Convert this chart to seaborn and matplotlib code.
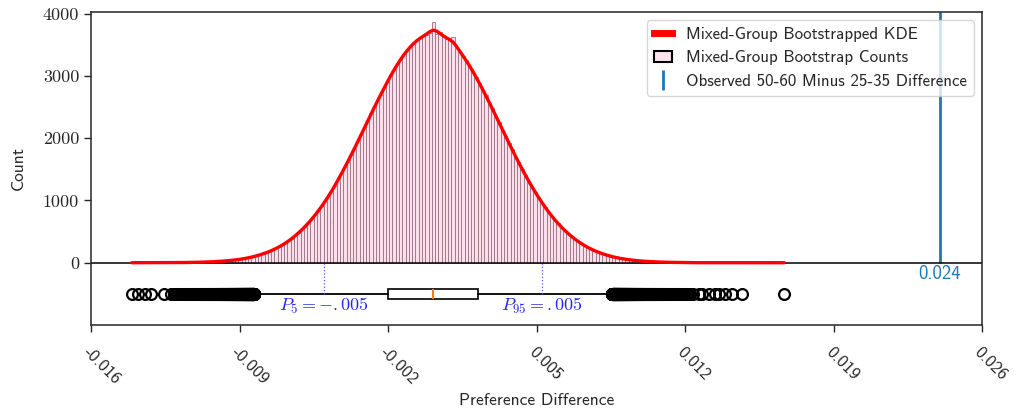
import numpy as np
import pandas as pd
import seaborn as sns
import matplotlib.pyplot as plt
from matplotlib.patches import Patch
from matplotlib.lines import Line2D

# ---- bootstrap counts (200 bins between min and max bootstrapped difference) ----
lo, hi = -0.01416, 0.01676
counts = [
    1, 0, 1, 0, 1, 0, 1, 0, 0, 0,
    1, 0, 1, 2, 2, 3, 3, 4, 5, 6,
    7, 8, 10, 12, 13, 16, 19, 22, 26, 31,
    34, 41, 46, 55, 61, 73, 81, 96, 106, 125,
    143, 155, 182, 199, 230, 251, 289, 312, 358, 389,
    441, 478, 539, 580, 646, 699, 772, 831, 915, 978,
    1072, 1148, 1236, 1342, 1427, 1538, 1624, 1745, 1833, 1958,
    2051, 2178, 2271, 2398, 2493, 2610, 2699, 2820, 2901, 3015,
    3092, 3197, 3259, 3351, 3405, 3482, 3519, 3583, 3606, 3650,
    3657, 3690, 3860, 3668, 3712, 3629, 3598, 3571, 3620, 3452,
    3402, 3318, 3255, 3160, 3084, 2977, 2893, 2779, 2690, 2569,
    2478, 2355, 2259, 2135, 2040, 1917, 1822, 1703, 1612, 1501,
    1415, 1306, 1228, 1129, 1056, 964, 901, 815, 757, 683,
    631, 567, 524, 466, 428, 380, 347, 306, 279, 244,
    222, 193, 175, 151, 137, 117, 105, 89, 80, 68,
    61, 51, 46, 38, 34, 28, 25, 20, 18, 15,
    13, 11, 9, 8, 6, 5, 5, 4, 3, 2,
    2, 1, 0, 1, 1, 0, 1, 0, 1, 1,
    0, 1, 0, 1, 0, 0, 1, 0, 0, 0,
    0, 0, 0, 0, 0, 0, 0, 0, 0, 1,
]
observed = 0.024
xticks = [-0.016, -0.009, -0.002, 0.005, 0.012, 0.019, 0.026]
yticks = [0, 1000, 2000, 3000, 4000]

edges = np.linspace(lo, hi, len(counts) + 1)
centers = (edges[:-1] + edges[1:]) / 2
binw = edges[1] - edges[0]
df = pd.DataFrame({'diff': centers, 'n': counts})

# raw differences recovered from the counts, spread evenly inside each bin
samples = np.concatenate([edges[i] + (np.arange(n) + 0.5) / n * binw
                          for i, n in enumerate(counts) if n > 0])

sns.set_style('ticks')
plt.rcParams['font.family'] = ['cmss10', 'DejaVu Sans']
plt.rcParams['mathtext.fontset'] = 'cm'
plt.rcParams['axes.unicode_minus'] = False

fig, ax = plt.subplots(figsize=(10.17, 4.19), dpi=100)
fig.subplots_adjust(left=0.0895, right=0.9656, top=0.972, bottom=0.2243)

ylo, yhi = -1000, 4030

# histogram + kde
sns.histplot(data=df, x='diff', weights='n', bins=len(counts), binrange=(lo, hi), kde=True,
             color='#fbe0ea', edgecolor='#9c7088', linewidth=0.6, alpha=1,
             kde_kws={'bw_adjust': 0.15}, line_kws={'lw': 2.4}, ax=ax)
ax.lines[0].set_color('red')
ax.lines[0].set_zorder(3)

ax.axhline(0, color='black', lw=1.1, zorder=2.5)

# boxplot below zero
ax.boxplot(samples, orientation='horizontal', positions=[-500], widths=160,
           manage_ticks=False, patch_artist=True,
           boxprops=dict(facecolor='white', edgecolor='black', lw=1.2),
           whiskerprops=dict(color='black', lw=1.3),
           capprops=dict(color='black', lw=1.3),
           medianprops=dict(color='tab:orange', lw=1.5),
           flierprops=dict(marker='o', markerfacecolor='none', markeredgecolor='black',
                           markersize=7.8, markeredgewidth=1.6))

# percentiles
p5, p95 = np.percentile(samples, [5, 95])
def short(v):
    s = '%.3f' % v
    return s.replace('0.', '.')

ax.vlines([p5, p95], -500, 0, colors='#5555ff', linestyles=':', lw=0.9)
ax.text(p5, -540, '$P_5 = %s$' % short(p5), color='#2626f0', ha='center', va='top', fontsize=13)
ax.text(p95, -540, '$P_{95} = %s$' % short(p95), color='#2626f0', ha='center', va='top', fontsize=13)

# observed difference
ax.vlines(observed, 0, yhi, colors='tab:blue', lw=2, zorder=2)
ax.text(observed, -35, '%.3f' % observed, color='tab:blue', ha='center', va='top', fontsize=13.5)

ax.set_xlim(-0.016, 0.026)
ax.set_ylim(ylo, yhi)
ax.set_xticks(xticks)
ax.set_xticklabels(['%.3f' % t for t in xticks], rotation=-45, ha='left', va='top',
                   rotation_mode='anchor', fontsize=12.5)
ax.set_yticks(yticks)
ax.set_yticklabels([str(t) for t in yticks], family='cmr10', fontsize=13)
ax.tick_params(length=5, width=1)
ax.tick_params(axis='x', pad=9)
for s in ax.spines.values():
    s.set_linewidth(1.1)

ax.set_xlabel('Preference Difference', fontsize=12.5)
ax.set_ylabel('Count', fontsize=12.5, labelpad=12)

handles = [Line2D([], [], color='red', lw=5, solid_capstyle='projecting'),
           Patch(facecolor='#fde3ee', edgecolor='black', lw=1.5),
           Line2D([], [], color='tab:blue', marker='|', ls='None', markersize=14, mew=2)]
labels = ['Mixed-Group Bootstrapped KDE', 'Mixed-Group Bootstrap Counts',
          'Observed 50-60 Minus 25-35 Difference']
ax.legend(handles, labels, loc='upper right', fontsize=12.2, handlelength=1.1)

plt.savefig('out.png')
